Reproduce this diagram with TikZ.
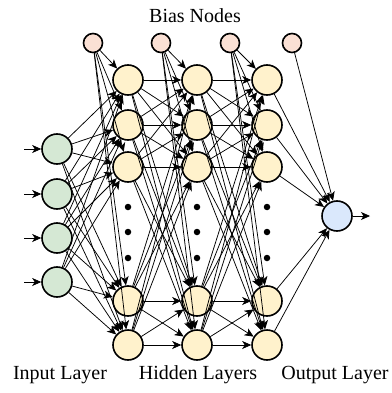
\documentclass[tikz,border=0pt]{standalone}
\usepackage{fontspec}
\setmainfont{Liberation Serif}
\usetikzlibrary{arrows.meta}
\definecolor{inp}{HTML}{D5E8D4}
\definecolor{hid}{HTML}{FFF2CC}
\definecolor{outc}{HTML}{DAE8FC}
\definecolor{biasc}{HTML}{FAE0D4}
\tikzset{
  neuron/.style={circle, draw=black, line width=1.6pt, minimum size=30pt, inner sep=0pt},
  innode/.style={neuron, fill=inp},
  hidnode/.style={neuron, fill=hid},
  outnode/.style={neuron, fill=outc},
  biasnode/.style={neuron, fill=biasc, minimum size=19pt},
  conn/.style={line width=0.75pt, -{Stealth[length=9pt,width=8pt,inset=2.5pt]}},
  dotnode/.style={circle, fill=black, inner sep=0pt, minimum size=6.5pt},
  lbl/.style={font=\fontsize{20}{23}\selectfont, inner sep=0pt}
}
\begin{document}
\begin{tikzpicture}[x=1pt,y=-1pt]
\useasboundingbox (0,0) rectangle (391,393);
% bias
\node[biasnode] (b1) at (93,43) {};
\node[biasnode] (b2) at (161,43) {};
\node[biasnode] (b3) at (230,43) {};
\node[biasnode] (b4) at (292,43) {};
% inputs
\foreach \i/\y in {1/149,2/194,3/238,4/282}{
  \node[innode] (i\i) at (57,\y) {};
  \coordinate (ia\i) at (24,\y);
}
% hidden
\foreach \l/\x in {1/128,2/197,3/267}{
  \foreach \r/\y in {1/80,2/125,3/167,4/301,5/345}{
    \node[hidnode] (h\l\r) at (\x,\y) {};
  }
  \foreach \y in {207,232,258}{
    \node[dotnode] at (\x,\y) {};
  }
}
% output
\node[outnode] (o) at (337,216) {};
\coordinate (oa) at (370,216);
% edges
\foreach \i in {1,...,4}{
  \draw[conn] (ia\i) -- (i\i);
  \foreach \r in {1,...,5}{ \draw[conn] (i\i) -- (h1\r); }
}
\foreach \r in {1,...,5}{
  \draw[conn] (b1) -- (h1\r);
  \draw[conn] (b2) -- (h2\r);
  \draw[conn] (b3) -- (h3\r);
  \draw[conn] (h3\r) -- (o);
  \foreach \s in {1,...,5}{
    \draw[conn] (h1\r) -- (h2\s);
    \draw[conn] (h2\r) -- (h3\s);
  }
}
\draw[conn] (b4) -- (o);
\draw[conn] (o) -- (oa);
% labels
\node[lbl] (tb) at (195,16) {Bias Nodes};
\node[lbl] (ti) at (60,375) {Input Layer};
\node[lbl] (th) at (198,375) {Hidden Layers};
\node[lbl] (to) at (335,375) {Output Layer};
\end{tikzpicture}
\end{document}
